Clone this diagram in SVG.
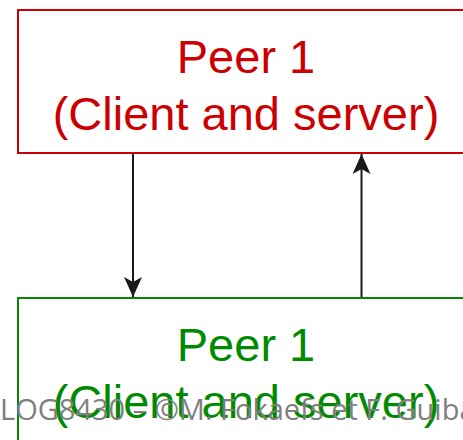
<svg xmlns="http://www.w3.org/2000/svg" width="463" height="440" viewBox="0 0 463 440">
<defs>
<style>
.lbl{font-family:"Liberation Sans",Arial,sans-serif;font-size:47px;text-anchor:middle}
.red{fill:#CC0000}
.grn{fill:#008A00}
.edge{stroke:#1a1a1a;stroke-width:2;fill:none}
.foot{font-family:"Open Sans","Noto Sans",sans-serif;font-size:29px;fill:#808080}
</style>
<marker id="ah" viewBox="0 0 20 18" refX="20" refY="9" markerWidth="20" markerHeight="18" markerUnits="userSpaceOnUse" orient="auto">
<path d="M0,0 L20,9 L0,18 L5,9 Z" fill="#1a1a1a"/>
</marker>
</defs>
<rect width="463" height="440" fill="#ffffff"/>
<g id="peer-top">
<rect x="18" y="10" width="460" height="143" fill="#ffffff" stroke="#CC0000" stroke-width="2"/>
<text class="lbl red" x="246" y="73">Peer 1</text>
<text class="lbl red" x="246" y="130">(Client and server)</text>
</g>
<g id="peer-bottom">
<rect x="18" y="298" width="460" height="160" fill="#ffffff" stroke="#008A00" stroke-width="2"/>
<text class="lbl grn" x="246" y="361">Peer 1</text>
<text class="lbl grn" x="246" y="418">(Client and server)</text>
</g>
<g id="connectors">
<line class="edge" x1="133" y1="154" x2="133" y2="297" marker-end="url(#ah)"/>
<line class="edge" x1="361.5" y1="297" x2="361.5" y2="154" marker-end="url(#ah)"/>
</g>
<text class="foot" x="0" y="420">LOG8430 – ©M. Fokaefs et F. Guibault</text>
</svg>
